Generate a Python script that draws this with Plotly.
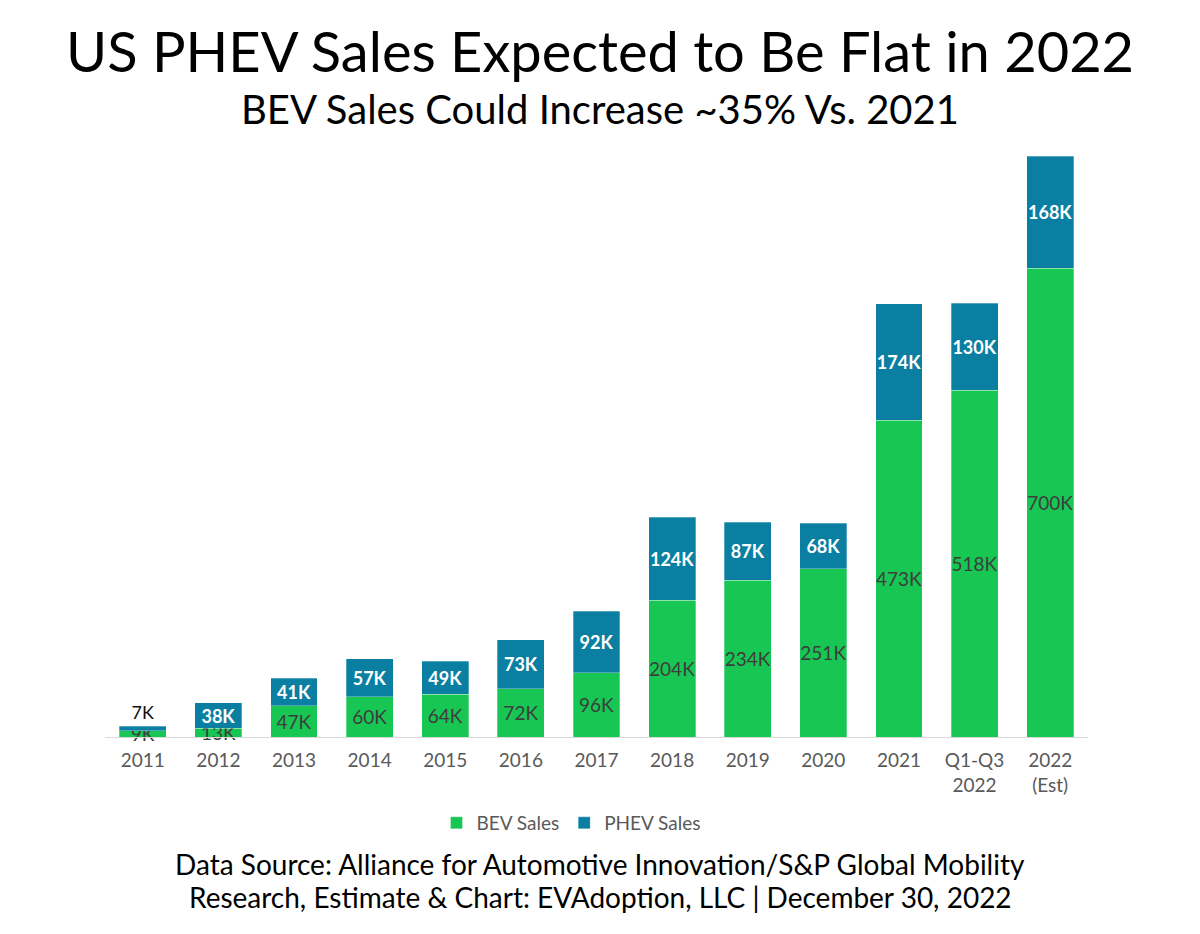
import plotly.graph_objects as go

categories = ["2011", "2012", "2013", "2014", "2015", "2016", "2017", "2018",
              "2019", "2020", "2021", "Q1-Q3<br>2022", "2022<br>(Est)"]
bev_k = [9, 13, 47, 60, 64, 72, 96, 204, 234, 251, 473, 518, 700]
phev_k = [7, 38, 41, 57, 49, 73, 92, 124, 87, 68, 174, 130, 168]

BEV_COLOR = "#17C653"
PHEV_COLOR = "#0A7FA1"
FONT = "Lato, 'Open Sans', sans-serif"

phev_pos = ["outside" if v < 15 else "inside" for v in phev_k]
phev_col = ["#111111" if v < 15 else "white" for v in phev_k]

# page body has an 8px default margin; figure sized to fit the window
OFF = 8
W, H = 1200 - OFF, 934 - OFF
ML, MR, MT, MB = 97, 112, 148, 197

fig = go.Figure()
fig.add_trace(go.Bar(
    x=categories, y=bev_k, name="BEV Sales",
    marker=dict(color=BEV_COLOR, line=dict(color="rgba(255,255,255,0.6)", width=0.5)),
    text=[f"{v}K" for v in bev_k], textposition="inside", insidetextanchor="middle",
    textangle=0, constraintext="none", cliponaxis=False,
    textfont=dict(family=FONT, size=19, color="#3d3d3d"),
    hoverinfo="skip",
))
fig.add_trace(go.Bar(
    x=categories, y=phev_k, name="PHEV Sales",
    marker=dict(color=PHEV_COLOR, line=dict(color="rgba(255,255,255,0.6)", width=0.5)),
    text=[f"<b>{v}K</b>" if v >= 15 else f"{v}K" for v in phev_k],
    textposition=phev_pos, insidetextanchor="middle",
    textangle=0, constraintext="none", cliponaxis=False,
    textfont=dict(family=FONT, size=18, color=phev_col),
    hoverinfo="skip",
))

plot_h = H - MT - MB
plot_w = W - ML - MR
def px_to_paper_y(py):
    return (H - MB - (py - OFF)) / plot_h
def px_to_paper_x(px):
    return ((px - OFF) - ML) / plot_w

fig.update_layout(
    barmode="stack", bargap=0.38,
    width=W, height=H,
    paper_bgcolor="white", plot_bgcolor="white",
    margin=dict(l=ML, r=MR, t=MT, b=MB, autoexpand=False),
    font=dict(family=FONT, color="#595959", size=19),
    showlegend=True,
    legend=dict(orientation="h", x=px_to_paper_x(571), xanchor="center",
                y=px_to_paper_y(823), yanchor="middle",
                font=dict(size=19, color="#595959"), traceorder="normal",
                itemwidth=30),
    xaxis=dict(showline=True, linecolor="#d9d9d9", linewidth=1, ticks="outside",
               ticklen=6, tickcolor="rgba(0,0,0,0)", automargin=False,
               tickfont=dict(size=19, color="#595959"), showgrid=False, fixedrange=True),
    yaxis=dict(visible=False, range=[0, 868], showgrid=False, automargin=False),
)

def add_text(txt, py, size):
    fig.add_annotation(text=txt, xref="paper", yref="paper",
                       x=px_to_paper_x(600), y=px_to_paper_y(py), showarrow=False,
                       xanchor="center", yanchor="middle",
                       font=dict(size=size, color="black", family=FONT))

add_text("US PHEV Sales Expected to Be Flat in 2022", 50, 56)
add_text("BEV Sales Could Increase ~35% Vs. 2021", 109, 40)
add_text("Data Source: Alliance for Automotive Innovation/S&P Global Mobility", 864, 28)
add_text("Research, Estimate & Chart: EVAdoption, LLC | December 30, 2022", 897, 28)

fig.write_html("out.html")
